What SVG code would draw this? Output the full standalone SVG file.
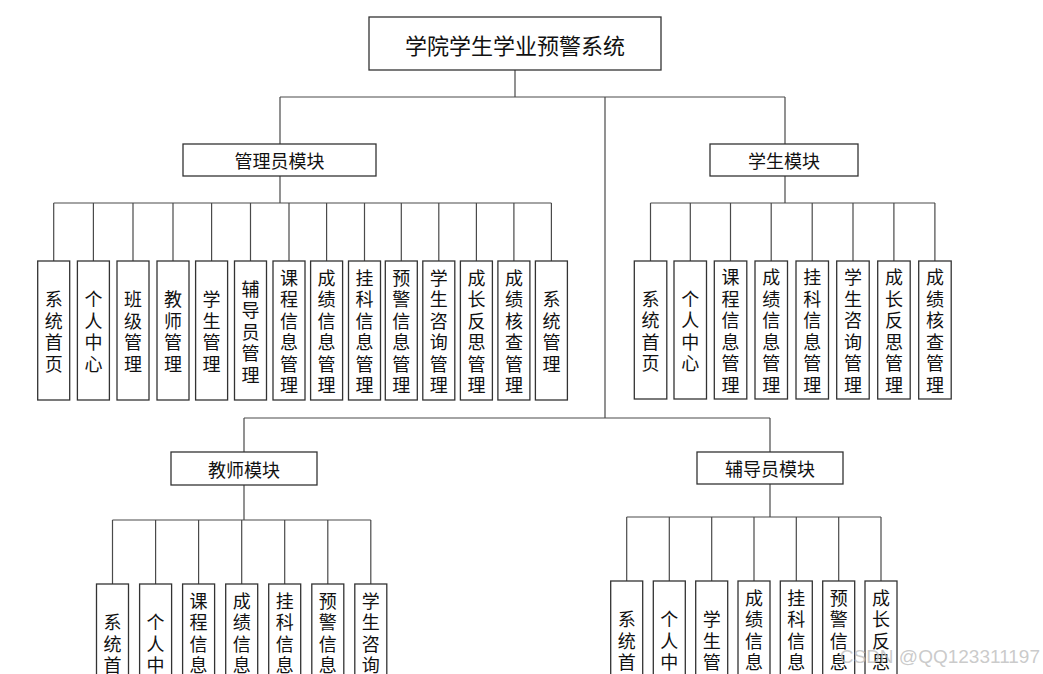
<svg xmlns="http://www.w3.org/2000/svg" width="1043" height="674" viewBox="0 0 1043 674">
<style>
.bg{fill:#ffffff}
.box{fill:#ffffff;stroke:#333333;stroke-width:1.3}
.ln{fill:none;stroke:#4a4a4a;stroke-width:1.2}
.t{font-family:"Noto Sans CJK SC","Liberation Sans",sans-serif;fill:#111111;text-anchor:middle;dominant-baseline:central}
.title{font-size:22px}
.mod{font-size:18px}
.leaf{font-size:18px}
.wm{font-family:"Liberation Sans","Noto Sans",sans-serif;font-size:19px;fill:#bdbdbd;fill-opacity:0.8;text-anchor:end}
</style>
<rect class="bg" x="0" y="0" width="1043" height="674"/>
<g id="connectors">
<path class="ln" d="M515 70V97M280 97H785M280 97V144M785 97V144M605 97V418"/>
<path class="ln" d="M280 176V203M53.7 203H551.4M53.7 203V261M93.4 203V261M133 203V261M173 203V261M211.6 203V261M250.5 203V261M289 203V261M326.6 203V261M364.5 203V261M401.3 203V261M438.8 203V261M476.4 203V261M513.9 203V261M551.4 203V261"/>
<path class="ln" d="M785 176V203M650.5 203H935M650.5 203V261M690.3 203V261M730.5 203V261M771.2 203V261M812.2 203V261M853 203V261M893.9 203V261M934.9 203V261"/>
<path class="ln" d="M244 418H770M244 418V452M770 418V452"/>
<path class="ln" d="M244 485V520M112.5 520H370.8M112.5 520V584M155.6 520V584M198.6 520V584M241.7 520V584M284.7 520V584M327.8 520V584M370.8 520V584"/>
<path class="ln" d="M770 484V517M626.7 517H881M626.7 517V581M669.3 517V581M711.7 517V581M754 517V581M796.3 517V581M838.7 517V581M881 517V581"/>
</g>
<g id="root"><rect class="box" x="369" y="17" width="292" height="53"/><text class="t title" x="515" y="44">学院学生学业预警系统</text></g>
<g id="admin"><rect class="box" x="183" y="144" width="193" height="32"/><text class="t mod" x="279.5" y="160">管理员模块</text></g>
<g id="student"><rect class="box" x="710" y="144" width="148" height="32"/><text class="t mod" x="784" y="160">学生模块</text></g>
<g id="teacher"><rect class="box" x="171" y="452" width="146" height="33"/><text class="t mod" x="244" y="468.5">教师模块</text></g>
<g id="counselor"><rect class="box" x="697" y="452" width="146" height="32"/><text class="t mod" x="770" y="468">辅导员模块</text></g>

<g id="admin-leaves">
<g id="a1"><rect class="box" x="37.7" y="261" width="32" height="139"/><text class="t leaf" x="53.7 53.7 53.7 53.7" y="298.25 319.75 341.25 362.75">系统首页</text></g>
<g id="a2"><rect class="box" x="77.4" y="261" width="32" height="139"/><text class="t leaf" x="93.4 93.4 93.4 93.4" y="298.25 319.75 341.25 362.75">个人中心</text></g>
<g id="a3"><rect class="box" x="117" y="261" width="32" height="139"/><text class="t leaf" x="133 133 133 133" y="298.25 319.75 341.25 362.75">班级管理</text></g>
<g id="a4"><rect class="box" x="157" y="261" width="32" height="139"/><text class="t leaf" x="173 173 173 173" y="298.25 319.75 341.25 362.75">教师管理</text></g>
<g id="a5"><rect class="box" x="195.6" y="261" width="32" height="139"/><text class="t leaf" x="211.6 211.6 211.6 211.6" y="298.25 319.75 341.25 362.75">学生管理</text></g>
<g id="a6"><rect class="box" x="234.5" y="261" width="32" height="139"/><text class="t leaf" x="250.5 250.5 250.5 250.5 250.5" y="287.5 309 330.5 352 373.5">辅导员管理</text></g>
<g id="a7"><rect class="box" x="273" y="261" width="32" height="139"/><text class="t leaf" x="289 289 289 289 289 289" y="276.75 298.25 319.75 341.25 362.75 384.25">课程信息管理</text></g>
<g id="a8"><rect class="box" x="310.6" y="261" width="32" height="139"/><text class="t leaf" x="326.6 326.6 326.6 326.6 326.6 326.6" y="276.75 298.25 319.75 341.25 362.75 384.25">成绩信息管理</text></g>
<g id="a9"><rect class="box" x="348.5" y="261" width="32" height="139"/><text class="t leaf" x="364.5 364.5 364.5 364.5 364.5 364.5" y="276.75 298.25 319.75 341.25 362.75 384.25">挂科信息管理</text></g>
<g id="a10"><rect class="box" x="385.3" y="261" width="32" height="139"/><text class="t leaf" x="401.3 401.3 401.3 401.3 401.3 401.3" y="276.75 298.25 319.75 341.25 362.75 384.25">预警信息管理</text></g>
<g id="a11"><rect class="box" x="422.8" y="261" width="32" height="139"/><text class="t leaf" x="438.8 438.8 438.8 438.8 438.8 438.8" y="276.75 298.25 319.75 341.25 362.75 384.25">学生咨询管理</text></g>
<g id="a12"><rect class="box" x="460.4" y="261" width="32" height="139"/><text class="t leaf" x="476.4 476.4 476.4 476.4 476.4 476.4" y="276.75 298.25 319.75 341.25 362.75 384.25">成长反思管理</text></g>
<g id="a13"><rect class="box" x="497.9" y="261" width="32" height="139"/><text class="t leaf" x="513.9 513.9 513.9 513.9 513.9 513.9" y="276.75 298.25 319.75 341.25 362.75 384.25">成绩核查管理</text></g>
<g id="a14"><rect class="box" x="535.4" y="261" width="32" height="139"/><text class="t leaf" x="551.4 551.4 551.4 551.4" y="298.25 319.75 341.25 362.75">系统管理</text></g>
</g>

<g id="student-leaves">
<g id="s1"><rect class="box" x="634.3" y="261" width="32.5" height="138"/><text class="t leaf" x="650.5 650.5 650.5 650.5" y="297.75 319.25 340.75 362.25">系统首页</text></g>
<g id="s2"><rect class="box" x="674" y="261" width="32.5" height="138"/><text class="t leaf" x="690.3 690.3 690.3 690.3" y="297.75 319.25 340.75 362.25">个人中心</text></g>
<g id="s3"><rect class="box" x="714.3" y="261" width="32.5" height="138"/><text class="t leaf" x="730.5 730.5 730.5 730.5 730.5 730.5" y="276.25 297.75 319.25 340.75 362.25 383.75">课程信息管理</text></g>
<g id="s4"><rect class="box" x="755" y="261" width="32.5" height="138"/><text class="t leaf" x="771.2 771.2 771.2 771.2 771.2 771.2" y="276.25 297.75 319.25 340.75 362.25 383.75">成绩信息管理</text></g>
<g id="s5"><rect class="box" x="796" y="261" width="32.5" height="138"/><text class="t leaf" x="812.2 812.2 812.2 812.2 812.2 812.2" y="276.25 297.75 319.25 340.75 362.25 383.75">挂科信息管理</text></g>
<g id="s6"><rect class="box" x="836.7" y="261" width="32.5" height="138"/><text class="t leaf" x="853 853 853 853 853 853" y="276.25 297.75 319.25 340.75 362.25 383.75">学生咨询管理</text></g>
<g id="s7"><rect class="box" x="877.7" y="261" width="32.5" height="138"/><text class="t leaf" x="893.9 893.9 893.9 893.9 893.9 893.9" y="276.25 297.75 319.25 340.75 362.25 383.75">成长反思管理</text></g>
<g id="s8"><rect class="box" x="918.7" y="261" width="32.5" height="138"/><text class="t leaf" x="934.9 934.9 934.9 934.9 934.9 934.9" y="276.25 297.75 319.25 340.75 362.25 383.75">成绩核查管理</text></g>
</g>

<g id="teacher-leaves">
<g id="t1"><rect class="box" x="96.5" y="584" width="32" height="139"/><text class="t leaf" x="112.5 112.5 112.5 112.5" y="621.25 642.75 664.25 685.75">系统首页</text></g>
<g id="t2"><rect class="box" x="139.6" y="584" width="32" height="139"/><text class="t leaf" x="155.6 155.6 155.6 155.6" y="621.25 642.75 664.25 685.75">个人中心</text></g>
<g id="t3"><rect class="box" x="182.6" y="584" width="32" height="139"/><text class="t leaf" x="198.6 198.6 198.6 198.6 198.6 198.6" y="599.75 621.25 642.75 664.25 685.75 707.25">课程信息管理</text></g>
<g id="t4"><rect class="box" x="225.7" y="584" width="32" height="139"/><text class="t leaf" x="241.7 241.7 241.7 241.7 241.7 241.7" y="599.75 621.25 642.75 664.25 685.75 707.25">成绩信息管理</text></g>
<g id="t5"><rect class="box" x="268.7" y="584" width="32" height="139"/><text class="t leaf" x="284.7 284.7 284.7 284.7 284.7 284.7" y="599.75 621.25 642.75 664.25 685.75 707.25">挂科信息管理</text></g>
<g id="t6"><rect class="box" x="311.8" y="584" width="32" height="139"/><text class="t leaf" x="327.8 327.8 327.8 327.8 327.8 327.8" y="599.75 621.25 642.75 664.25 685.75 707.25">预警信息管理</text></g>
<g id="t7"><rect class="box" x="354.8" y="584" width="32" height="139"/><text class="t leaf" x="370.8 370.8 370.8 370.8 370.8 370.8" y="599.75 621.25 642.75 664.25 685.75 707.25">学生咨询管理</text></g>
</g>

<g id="counselor-leaves">
<g id="c1"><rect class="box" x="610.7" y="581" width="32" height="139"/><text class="t leaf" x="626.7 626.7 626.7 626.7" y="618.25 639.75 661.25 682.75">系统首页</text></g>
<g id="c2"><rect class="box" x="653.3" y="581" width="32" height="139"/><text class="t leaf" x="669.3 669.3 669.3 669.3" y="618.25 639.75 661.25 682.75">个人中心</text></g>
<g id="c3"><rect class="box" x="695.7" y="581" width="32" height="139"/><text class="t leaf" x="711.7 711.7 711.7 711.7" y="618.25 639.75 661.25 682.75">学生管理</text></g>
<g id="c4"><rect class="box" x="738" y="581" width="32" height="139"/><text class="t leaf" x="754 754 754 754 754 754" y="596.75 618.25 639.75 661.25 682.75 704.25">成绩信息管理</text></g>
<g id="c5"><rect class="box" x="780.3" y="581" width="32" height="139"/><text class="t leaf" x="796.3 796.3 796.3 796.3 796.3 796.3" y="596.75 618.25 639.75 661.25 682.75 704.25">挂科信息管理</text></g>
<g id="c6"><rect class="box" x="822.7" y="581" width="32" height="139"/><text class="t leaf" x="838.7 838.7 838.7 838.7 838.7 838.7" y="596.75 618.25 639.75 661.25 682.75 704.25">预警信息管理</text></g>
<g id="c7"><rect class="box" x="865" y="581" width="32" height="139"/><text class="t leaf" x="881 881 881 881 881 881" y="596.75 618.25 639.75 661.25 682.75 704.25">成长反思管理</text></g>
</g>
<text class="wm" x="1040" y="663">CSDN @QQ123311197</text>
</svg>
